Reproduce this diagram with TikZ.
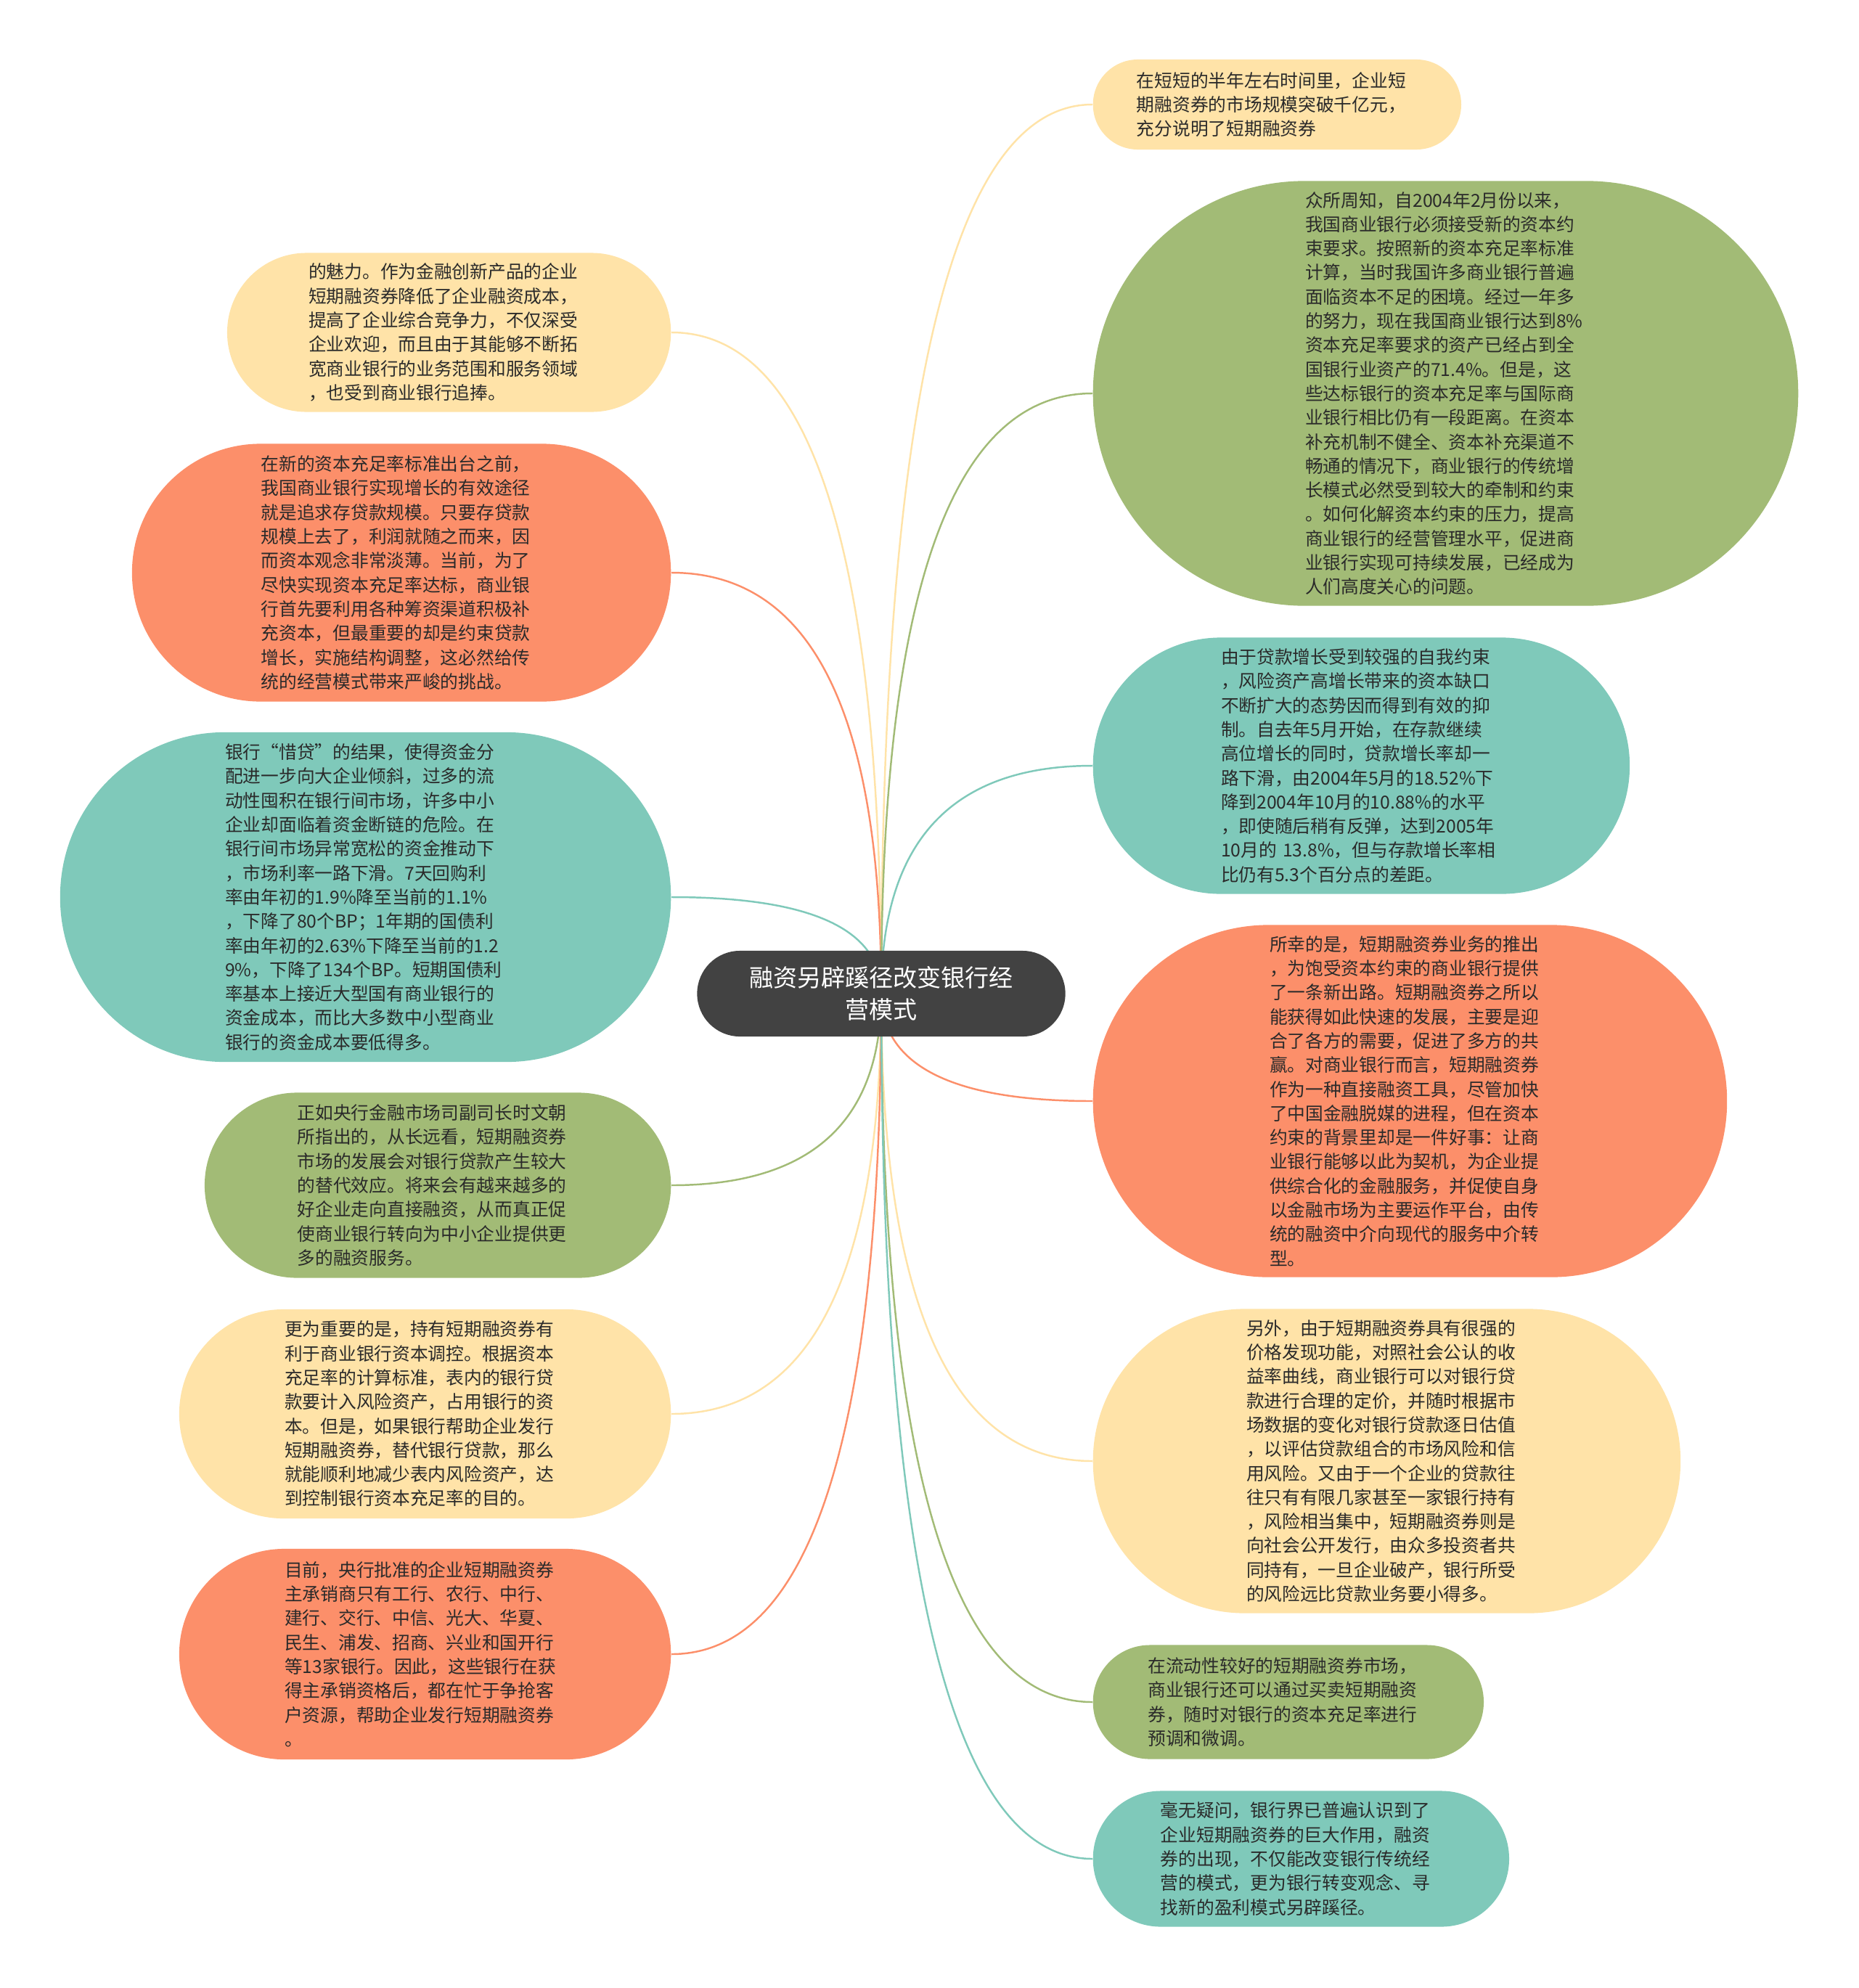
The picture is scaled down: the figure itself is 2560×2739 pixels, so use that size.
\documentclass[tikz,border=0pt]{standalone}
\usepackage{fontspec}
\setmainfont{Noto Sans CJK SC}
\usetikzlibrary{calc,backgrounds}

\definecolor{hubgray}{HTML}{424242}
\definecolor{leafyellow}{HTML}{FFE3A8}
\definecolor{leaforange}{HTML}{FC8F6A}
\definecolor{leafteal}{HTML}{7FC9BA}
\definecolor{leafgreen}{HTML}{A2BB76}
\definecolor{inktext}{HTML}{2A2A2A}

\tikzset{
  leaf/.style={font=\fontsize{7.03pt}{9.47pt}\selectfont,text=inktext,text width=110pt,align=left,inner sep=0pt},
  pill/.style 2 args={minimum width=#1cm,minimum height=#2cm,rounded corners=#2*0.499cm},
  link/.style={line width=0.7pt},
}

\begin{document}
\begin{tikzpicture}[x=0.01cm,y=-0.01cm]
\useasboundingbox (0,0) rectangle (2560,2739);

% centre topic
\node[fill=hubgray,text=white,pill={5.07}{1.18},align=center,inner sep=0pt,
  font=\fontsize{9.4pt}{12.4pt}\selectfont] (hub) at (1214,1369)
  {融资另辟蹊径改变银行经\\营模式};

% left column
\node[leaf,fill=leafyellow,pill={6.11}{2.19},anchor=east] (l1) at (925,458)
{的魅力。作为金融创新产品的企业\\短期融资券降低了企业融资成本，\\提高了企业综合竞争力，不仅深受\\企业欢迎，而且由于其能够不断拓\\宽商业银行的业务范围和服务领域\\，也受到商业银行追捧。};
\node[leaf,fill=leaforange,pill={7.42}{3.55},anchor=east] (l2) at (925,789)
{在新的资本充足率标准出台之前，\\我国商业银行实现增长的有效途径\\就是追求存贷款规模。只要存贷款\\规模上去了，利润就随之而来，因\\而资本观念非常淡薄。当前，为了\\尽快实现资本充足率达标，商业银\\行首先要利用各种筹资渠道积极补\\充资本，但最重要的却是约束贷款\\增长，实施结构调整，这必然给传\\统的经营模式带来严峻的挑战。};
\node[leaf,fill=leafteal,pill={8.41}{4.54},anchor=east] (l3) at (925,1236)
{银行“惜贷”的结果，使得资金分\\配进一步向大企业倾斜，过多的流\\动性囤积在银行间市场，许多中小\\企业却面临着资金断链的危险。在\\银行间市场异常宽松的资金推动下\\，市场利率一路下滑。7天回购利\\率由年初的1.9\%降至当前的1.1\%\\，下降了80个BP；1年期的国债利\\率由年初的2.63\%下降至当前的1.2\\9\%，下降了134个BP。短期国债利\\率基本上接近大型国有商业银行的\\资金成本，而比大多数中小型商业\\银行的资金成本要低得多。};
\node[leaf,fill=leafgreen,pill={6.42}{2.55},anchor=east] (l4) at (925,1633)
{正如央行金融市场司副司长时文朝\\所指出的，从长远看，短期融资券\\市场的发展会对银行贷款产生较大\\的替代效应。将来会有越来越多的\\好企业走向直接融资，从而真正促\\使商业银行转向为中小企业提供更\\多的融资服务。};
\node[leaf,fill=leafyellow,pill={6.77}{2.88},anchor=east] (l5) at (925,1948)
{更为重要的是，持有短期融资券有\\利于商业银行资本调控。根据资本\\充足率的计算标准，表内的银行贷\\款要计入风险资产，占用银行的资\\本。但是，如果银行帮助企业发行\\短期融资券，替代银行贷款，那么\\就能顺利地减少表内风险资产，达\\到控制银行资本充足率的目的。};
\node[leaf,fill=leaforange,pill={6.77}{2.90},anchor=east] (l6) at (925,2279)
{目前，央行批准的企业短期融资券\\主承销商只有工行、农行、中行、\\建行、交行、中信、光大、华夏、\\民生、浦发、招商、兴业和国开行\\等13家银行。因此，这些银行在获\\得主承销资格后，都在忙于争抢客\\户资源，帮助企业发行短期融资券\\。};

% right column
\node[leaf,fill=leafyellow,pill={5.07}{1.24},anchor=west] (r1) at (1505,144)
{在短短的半年左右时间里，企业短\\期融资券的市场规模突破千亿元，\\充分说明了短期融资券};
\node[leaf,fill=leafgreen,pill={9.71}{5.85},anchor=west] (r2) at (1505,542)
{众所周知，自2004年2月份以来，\\我国商业银行必须接受新的资本约\\束要求。按照新的资本充足率标准\\计算，当时我国许多商业银行普遍\\面临资本不足的困境。经过一年多\\的努力，现在我国商业银行达到8\%\\资本充足率要求的资产已经占到全\\国银行业资产的71.4\%。但是，这\\些达标银行的资本充足率与国际商\\业银行相比仍有一段距离。在资本\\补充机制不健全、资本补充渠道不\\畅通的情况下，商业银行的传统增\\长模式必然受到较大的牵制和约束\\。如何化解资本约束的压力，提高\\商业银行的经营管理水平，促进商\\业银行实现可持续发展，已经成为\\人们高度关心的问题。};
\node[leaf,fill=leafteal,pill={7.39}{3.53},anchor=west] (r3) at (1505,1055)
{由于贷款增长受到较强的自我约束\\，风险资产高增长带来的资本缺口\\不断扩大的态势因而得到有效的抑\\制。自去年5月开始，在存款继续\\高位增长的同时，贷款增长率却一\\路下滑，由2004年5月的18.52\%下\\降到2004年10月的10.88\%的水平\\，即使随后稍有反弹，达到2005年\\10月的~13.8\%，但与存款增长率相\\比仍有5.3个百分点的差距。};
\node[leaf,fill=leaforange,pill={8.73}{4.85},anchor=west] (r4) at (1505,1517)
{所幸的是，短期融资券业务的推出\\，为饱受资本约束的商业银行提供\\了一条新出路。短期融资券之所以\\能获得如此快速的发展，主要是迎\\合了各方的需要，促进了多方的共\\赢。对商业银行而言，短期融资券\\作为一种直接融资工具，尽管加快\\了中国金融脱媒的进程，但在资本\\约束的背景里却是一件好事：让商\\业银行能够以此为契机，为企业提\\供综合化的金融服务，并促使自身\\以金融市场为主要运作平台，由传\\统的融资中介向现代的服务中介转\\型。};
\node[leaf,fill=leafyellow,pill={8.09}{4.19},anchor=west] (r5) at (1505,2013)
{另外，由于短期融资券具有很强的\\价格发现功能，对照社会公认的收\\益率曲线，商业银行可以对银行贷\\款进行合理的定价，并随时根据市\\场数据的变化对银行贷款逐日估值\\，以评估贷款组合的市场风险和信\\用风险。又由于一个企业的贷款往\\往只有有限几家甚至一家银行持有\\，风险相当集中，短期融资券则是\\向社会公开发行，由众多投资者共\\同持有，一旦企业破产，银行所受\\的风险远比贷款业务要小得多。};
\node[leaf,fill=leafgreen,pill={5.38}{1.57},anchor=west] (r6) at (1505,2345)
{在流动性较好的短期融资券市场，\\商业银行还可以通过买卖短期融资\\券，随时对银行的资本充足率进行\\预调和微调。};
\node[leaf,fill=leafteal,pill={5.73}{1.87},anchor=west] (r7) at (1505,2561)
{毫无疑问，银行界已普遍认识到了\\企业短期融资券的巨大作用，融资\\券的出现，不仅能改变银行传统经\\营的模式，更为银行转变观念、寻\\找新的盈利模式另辟蹊径。};

% branches
\begin{scope}[on background layer]
\foreach \leaf/\col/\side in {l1/leafyellow/east,l2/leaforange/east,l3/leafteal/east,
    l4/leafgreen/east,l5/leafyellow/east,l6/leaforange/east,
    r1/leafyellow/west,r2/leafgreen/west,r3/leafteal/west,r4/leaforange/west,
    r5/leafyellow/west,r6/leafgreen/west,r7/leafteal/west}
  \draw[link,draw=\col] (hub.center)
    .. controls ($(hub.center)!.667!(hub.center |- \leaf.\side)$)
    and ($(\leaf.\side)!.667!(hub.center |- \leaf.\side)$) .. (\leaf.\side);
\end{scope}
\end{tikzpicture}
\end{document}
